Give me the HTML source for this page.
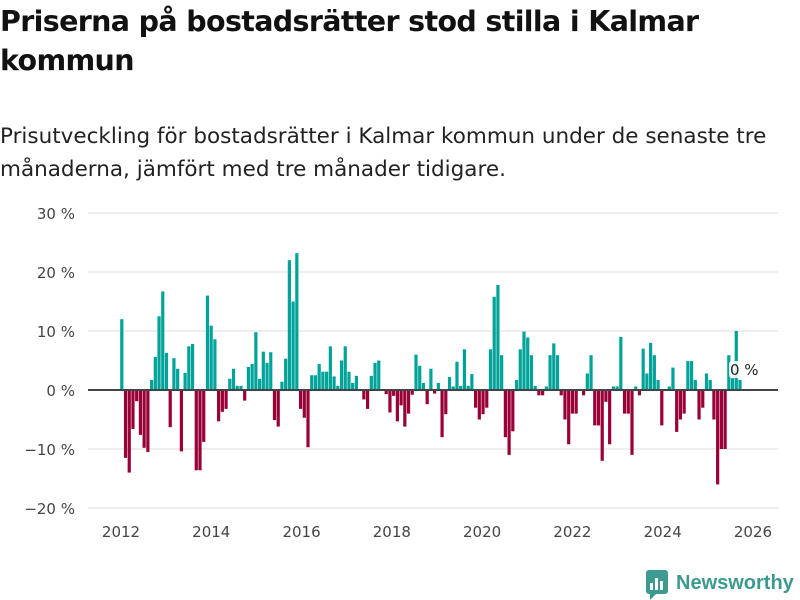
<!DOCTYPE html>
<html><head><meta charset="utf-8">
<style>
body{margin:0;width:800px;height:600px;background:#fff;font-family:"DejaVu Sans","Liberation Sans",sans-serif;overflow:hidden;position:relative}
h1{position:absolute;left:0;top:2px;margin:0;font-size:28.5px;line-height:39px;font-weight:bold;color:#111;letter-spacing:-0.65px}
.sub{position:absolute;left:0;top:120px;margin:0;font-size:21.5px;line-height:33px;color:#222;letter-spacing:0px}
svg{position:absolute;left:0;top:0}
</style></head><body>
<h1>Priserna på bostadsrätter stod stilla i Kalmar<br>kommun</h1>
<p class="sub">Prisutveckling för bostadsrätter i Kalmar kommun under de senaste tre<br>månaderna, jämfört med tre månader tidigare.</p>
<svg id="chart" width="800" height="600"></svg>
<script>
const values=[12,-11.5,-14,-6.6,-1.9,-7.6,-9.8,-10.5,1.7,5.6,12.5,16.7,6.3,-6.3,5.4,3.6,-10.4,2.9,7.4,7.8,-13.6,-13.6,-8.8,16,10.9,8.6,-5.3,-3.7,-3.2,1.9,3.6,0.7,0.7,-1.8,3.9,4.4,9.8,1.9,6.5,4.6,6.4,-5.1,
-6.2,1.4,5.3,22,15,23.2,-3.2,-4.7,-9.7,2.5,2.5,4.4,3.1,3.1,7.4,2.3,0.7,5,7.4,3.1,1.2,2.4,0,-1.6,-3.2,2.4,4.6,5,0,-0.7,-3.8,-1,-5.3,-2.6,-6.2,-4,-0.8,6,4.1,1.2,-2.4,3.6,-0.6,1.2,
-8,-4.1,2.2,0.6,4.8,0.7,6.9,0.7,2.7,-3,-5,-4.1,-3,6.9,15.8,17.8,5.9,-8,-11,-7,1.7,6.9,9.9,8.9,5.9,0.7,-0.9,-0.9,0.6,5.9,7.9,5.9,-0.9,-5,-9.2,-4,-4,0,-0.9,2.8,5.9,
-6,-6,-12,-2,-9.2,0.6,0.6,9,-4,-4,-11,0.6,-0.9,7,2.8,8,5.9,1.7,-6,0,0.6,3.8,-7.1,-5,-4,4.9,4.9,1.7,-5,-3,2.8,1.7,-5,-16,-10,-10,5.9,2,10,1.7];
const yTicks=[30,20,10,0,-10,-20];
const xTickYears=[2012,2014,2016,2018,2020,2022,2024,2026];
const lastLabel="0 %";
const NS="http://www.w3.org/2000/svg";
const svg=document.getElementById('chart');
const y=v=>390-v*5.9;
const xYear=yr=>121+(yr-2012)*45.14;
const xBar=i=>121.8+i*(740-121.8)/166;
function mk(t,a){const e=document.createElementNS(NS,t);for(const k in a)e.setAttribute(k,a[k]);svg.appendChild(e);return e;}
yTicks.forEach(t=>{
 const l=mk('line',{x1:88,x2:778,y1:y(t),y2:y(t),stroke:'#e3e3e3','stroke-width':1.2});
 
 
 const tx=mk('text',{x:75,y:y(t)+6,'text-anchor':'end','font-size':15,fill:'#444'});
 tx.textContent=(t<0?'−'+(-t):t)+' %';
 
 
});
values.forEach((v,i)=>{
 const cx=xBar(i);
 const r=mk('rect',{x:cx-1.6,y:Math.min(y(v),390),width:3.2,height:Math.abs(y(v)-390),fill:v>=0?'#00a399':'#990038'});
 
 
});
const z=mk('line',{x1:88,x2:778,y1:390,y2:390,stroke:'#444','stroke-width':2});


xTickYears.forEach(yr=>{
 const tx=mk('text',{x:xYear(yr),y:537,'text-anchor':'middle','font-size':15,fill:'#444'});
 tx.textContent=yr;
 
 
});
const lb=mk('rect',{x:729,y:361,width:30,height:17,fill:'#fff',rx:3,opacity:0.85});


const lt=mk('text',{x:730,y:375,'font-size':15,fill:'#222'});
lt.textContent=lastLabel;


</script>
<svg width="800" height="600" style="pointer-events:none">
 <rect x="646" y="570" width="22" height="24" rx="3" fill="#3d9a8f"/>
 <rect x="650" y="583" width="3" height="7" fill="#fff"/><rect x="655" y="578" width="3" height="12" fill="#fff"/><rect x="660" y="581" width="3" height="9" fill="#fff"/>
 <polygon points="650,594 656,594 650,600" fill="#3d9a8f"/>
 <text x="676" y="589" font-size="20" font-weight="bold" fill="#3d9a8f" font-family="Liberation Sans, sans-serif">Newsworthy</text>
</svg>
</body></html>
